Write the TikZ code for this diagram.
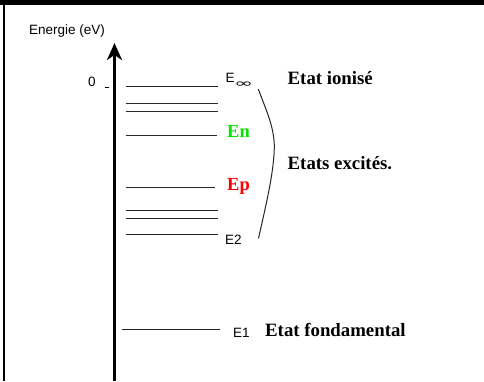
\documentclass[tikz,border=0pt]{standalone}
\usepackage{fontspec}
\setmainfont{Liberation Serif}
\newfontfamily\lsans{Liberation Sans}
\newfontfamily\dejavu{DejaVu Sans}
\usetikzlibrary{arrows.meta}
\tikzset{
  level/.style={line width=1pt, black!85},
  small/.style={font=\lsans\fontsize{13.5}{15}\selectfont, inner sep=0pt, anchor=west},
  title/.style={font=\bfseries\fontsize{18.8}{21}\selectfont, inner sep=0pt, anchor=west},
  elab/.style={font=\bfseries\fontsize{18.5}{20}\selectfont, inner sep=0pt, anchor=west},
}
\begin{document}
\begin{tikzpicture}[x=1pt,y=-1pt]
\useasboundingbox (0,0) rectangle (484,381);
\fill[white] (0,0) rectangle (484,381);
% frame
\fill[black] (0,0) rectangle (484,5);
\fill[black] (3.3,5) rectangle (5.3,381);
% axis
\coordinate (abot) at (114.5,381);
\coordinate (atop) at (114.5,43);
\draw[line width=3pt, -{Stealth[length=17pt,width=15pt,inset=5pt]}] (abot) -- (atop);
\node[small] (elabel) at (29,31) {Energie (eV)};
\node[small, anchor=center] (zero) at (92,82) {0};
\draw[line width=1pt] (105,87.5) -- (109,87.5);
% levels
\draw[level] (125.7,86.7) -- (218,86.7);
\draw[level] (125.7,103.7) -- (218,103.7);
\draw[level] (125.7,111) -- (218,111);
\draw[level] (125.7,135) -- (217,135);
\draw[level] (125.7,187.3) -- (215,187.3);
\draw[level] (125.7,210.3) -- (218,210.3);
\draw[level] (125.7,218.7) -- (218,218.7);
\draw[level] (125.7,234.5) -- (218,234.5);
\draw[level] (121.7,329) -- (220,329);
% level labels
\node[small] (einf) at (225.5,80) {E\kern-0.5pt\raisebox{-5pt}{\dejavu\scalebox{1.7}[0.85]{∞}}};
\node[elab, text=green!90!black, anchor=center] (en) at (238.5,131.5) {En};
\node[elab, text=red, anchor=center] (ep) at (238.5,186.5) {Ep};
\node[small] (e2) at (225,240) {E2};
\node[small] (e1) at (233,333) {E1};
% bracket
\coordinate (btop) at (258.3,89);
\coordinate (bbot) at (258.5,238.3);
\draw[line width=1pt, black!85] (btop) .. controls (266,110) and (273.5,125) .. (274.3,145)
   .. controls (274.5,170) and (266,205) .. (bbot);
% titles
\node[title] (ion) at (287.5,78.5) {Etat ionisé};
\node[title] (exc) at (287.5,163) {Etats excités.};
\node[title] (fond) at (265,330) {Etat fondamental};
\end{tikzpicture}
\end{document}
